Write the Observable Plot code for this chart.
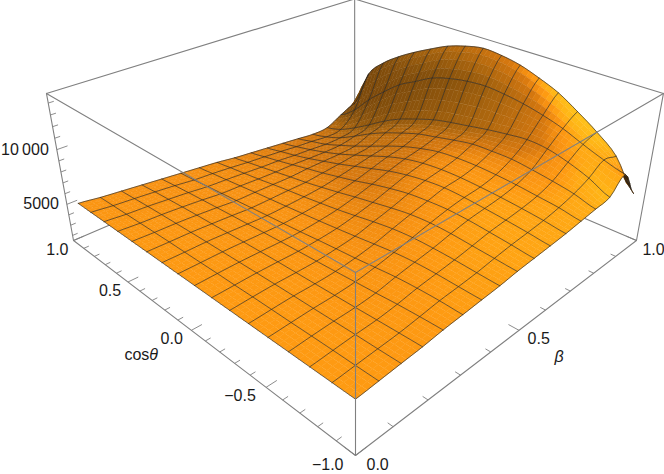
<!DOCTYPE html>
<html><head><meta charset="utf-8">
<style>html,body{margin:0;padding:0;background:#fff}svg{display:block}</style>
<script src="https://cdn.jsdelivr.net/npm/d3@7"></script>
<script src="https://cdn.jsdelivr.net/npm/@observablehq/plot@0.6"></script>
</head><body><div id="chart"></div>
<script>
const betaNodes = [0.02,0.08,0.14,0.20,0.26,0.32,0.38,0.44,0.50,0.56,0.62,0.68,0.74,0.80,0.86,0.92,0.98];
const cosNodes = [-0.96,-0.84,-0.72,-0.60,-0.48,-0.36,-0.24,-0.12,0,0.12,0.24,0.36,0.48,0.60,0.72,0.84,0.96];
// one row per beta node, one column per cos node
const zGrid = [
[5090,5090,5090,5090,5090,5090,5090,5090,5090,5090,5090,5090,5090,5090,5090,5090,5090],
[5220,5210,5210,5200,5180,5170,5160,5130,5120,5090,5060,5040,5000,4960,4920,4880,4830],
[5360,5330,5320,5290,5260,5240,5210,5170,5130,5090,5050,5000,4940,4880,4810,4720,4630],
[5490,5450,5400,5340,5290,5240,5200,5160,5100,5040,4970,4900,4830,4750,4650,4550,4430],
[5690,5660,5600,5490,5400,5300,5220,5140,5060,4980,4880,4790,4690,4590,4480,4360,4230],
[5820,5890,5890,5820,5660,5490,5360,5220,5060,4930,4800,4670,4530,4400,4270,4130,4030],
[5960,6020,6090,6090,5980,5780,5560,5360,5170,5000,4830,4670,4510,4330,4160,4000,3830],
[6090,6180,6290,6350,6350,6220,5960,5650,5360,5120,4890,4690,4470,4230,4030,3830,3630],
[6290,6420,6550,6690,6730,6620,6350,6020,5690,5330,5000,4690,4430,4160,3890,3630,3360],
[6420,6630,6820,6990,7060,6980,6820,6490,6090,5620,5220,4830,4490,4130,3790,3470,3160],
[6550,6780,6980,7150,7290,7350,7220,6950,6550,6020,5490,4960,4490,4030,3630,3300,2960],
[6690,6950,7150,7310,7420,7490,7460,7290,6950,6420,5760,5120,4490,3960,3500,3100,2760],
[6890,7220,7420,7620,7750,7820,7780,7620,7220,6690,6020,5290,4590,3960,3360,2960,2560],
[7090,7620,7950,8220,8420,8420,8350,8020,7620,7220,6620,5960,5160,4230,3360,2760,2360],
[7310,8220,8880,9350,9480,9280,9010,8680,8350,7950,7350,6690,5820,4760,3760,2900,2430],
[8550,9080,9750,10480,11010,11410,11670,11810,11670,11340,10810,9880,8950,7620,6160,4430,3230],
[6020,8680,10150,11340,12410,13140,13740,14070,14200,13870,13340,12540,11670,10680,9480,7750,3890]
];
const betaTicks = [0,0.1,0.2,0.3,0.4,0.5,0.6,0.7,0.8,0.9,1];
const cosTicks = [-1,-0.9,-0.8,-0.7,-0.6,-0.5,-0.4,-0.3,-0.2,-0.1,0,0.1,0.2,0.3,0.4,0.5,0.6,0.7,0.8,0.9,1];
const zTicks = [2000,3000,4000,5000,6000,7000,8000,9000,10000,11000,12000,13000,14000];
const betaLabels = [0,0.5,1];
const cosLabels = [-1,-0.5,0,0.5,1];
const zLabels = [5000,10000];
const zMin = 1500, zMax = 14800;

// perspective view of the box [0,1] x [-1,1] x [zMin,zMax]
const U = b => b, V = c => (c + 1) / 2, W = z => (z - zMin) / (zMax - zMin);
function view(u, v, w) {
  const D = 1 + 0.393 * (u + v) - 0.122 * w;
  return [355 + (391.4 * u - 392.8 * v) / D, 455 - (299.5 * (u + v) + 160.7 * w) / D];
}
const P = (b, c, z) => view(U(b), V(c), W(z));
const pX = d => P(d.b, d.c, d.z)[0], pY = d => P(d.b, d.c, d.z)[1];

// lighting from the surface normal at each node
const norm = ([a, b, c]) => { const l = Math.hypot(a, b, c); return [a / l, b / l, c / l]; };
const dot = (a, b) => a[0] * b[0] + a[1] * b[1] + a[2] * b[2];
const L1 = norm([-0.25, -0.65, 0.7]), L2 = norm([0.45, 0.1, 0.88]), L3 = norm([-0.1, 0.8, 0.6]);
const ramp = d3.scaleLinear()
  .domain([0, 0.5, 0.62, 0.7, 0.8, 0.9, 0.945, 0.965, 0.985, 1.005, 1.025, 1.06, 1.16, 1.3])
  .range(["#2a1604", "#5e3506", "#7a470a", "#85500c", "#a8640e", "#c8720f", "#d8790f", "#ec8810", "#f89212", "#fe9a12", "#ffa814", "#ffb616", "#ffc81c", "#ffdc20"])
  .clamp(true);
const n = 16;
const rawShade = zGrid.map((row, k) => row.map((_, i) => {
  const kp = Math.min(k + 1, n), km = Math.max(k - 1, 0), ip = Math.min(i + 1, n), im = Math.max(i - 1, 0);
  let wu = (W(zGrid[kp][i]) - W(zGrid[km][i])) / ((kp - km) * 0.06);
  const wv = (W(zGrid[k][ip]) - W(zGrid[k][im])) / ((ip - im) * 0.06);
  if (k === n) wu *= 0.35;
  const N = norm([-wu * 0.4, -wv * 0.4, 1]);
  const a = Math.max(0, dot(N, L1));
  return 0.2 + 0.6 * a + 0.28 * Math.max(0, dot(N, L2)) + 0.22 * Math.max(0, dot(N, L3)) + 0.55 * Math.pow(a, 30);
}));
// soften the node lighting across neighbours
function blur(g, passes) {
  let out = g;
  for (let p = 0; p < passes; p++) {
    const src = out;
    out = src.map((row, k) => row.map((_, i) => {
      const c = (a, e) => src[Math.min(n, Math.max(0, a))][Math.min(n, Math.max(0, e))];
      const kw = k < 13 ? 1 : 0.35;
      return (4 * c(k, i) + c(k, i - 1) + c(k, i + 1) + kw * (c(k - 1, i) + c(k + 1, i))) / (6 + 2 * kw);
    }));
  }
  return out;
}
const shade = blur(rawShade, 3);

// smooth drawing of the surface through its nodes
const cr = (p0, p1, p2, p3, t) => 0.5 * (2 * p1 + (p2 - p0) * t + (2 * p0 - 5 * p1 + 4 * p2 - p3) * t * t + (3 * p1 - p0 - 3 * p2 + p3) * t * t * t);
const gridAt = (k, i) => zGrid[Math.min(n, Math.max(0, k))][Math.min(n, Math.max(0, i))];
function surf(k, i, s, t) {
  const col = a => cr(gridAt(k - 1, i + a), gridAt(k, i + a), gridAt(k + 1, i + a), gridAt(k + 2, i + a), s);
  return cr(col(-1), col(0), col(1), col(2), t);
}
const sub = 4, patches = [];
const lerp = (p, q, t) => p + (q - p) * t;
function bil(g, k, i, s, t) {
  return lerp(lerp(g[k][i], g[k + 1][i], s), lerp(g[k][i + 1], g[k + 1][i + 1], s), t);
}
function node(k, i, s, t) {
  return { b: lerp(betaNodes[k], betaNodes[k + 1], s), c: lerp(cosNodes[i], cosNodes[i + 1], t), z: surf(k, i, s, t) };
}
let id = 0;
for (let k = n - 1; k >= 0; k--) for (let i = n - 1; i >= 0; i--) {
  for (let a = sub - 1; a >= 0; a--) for (let e = sub - 1; e >= 0; e--) {
    const s0 = a / sub, s1 = (a + 1) / sub, t0 = e / sub, t1 = (e + 1) / sub;
    const q = [node(k, i, s0, t0), node(k, i, s1, t0), node(k, i, s1, t1), node(k, i, s0, t1)];
    const sc = q.map(p => P(p.b, p.c, p.z));
    let area = 0;
    for (let j = 0; j < 4; j++) { const [x1, y1] = sc[j], [x2, y2] = sc[(j + 1) % 4]; area += x1 * y2 - x2 * y1; }
    const col = area > 0 ? "#3a2206" : ramp(bil(shade, k, i, (s0 + s1) / 2, (t0 + t1) / 2));
    const pid = id++;
    q.forEach(p => patches.push({ ...p, id: pid, col }));
  }
}

// mesh lines through the nodes
const mesh = [];
for (let k = 0; k <= n; k++) for (let i = 0; i < n; i++) for (let e = 0; e <= sub; e++) {
  const kk = Math.min(k, n - 1), s = k === n ? 1 : 0;
  mesh.push({ ...node(kk, i, s, e / sub), id: "b" + k });
}
for (let i = 0; i <= n; i++) for (let k = 0; k < n; k++) for (let e = 0; e <= sub; e++) {
  const ii = Math.min(i, n - 1), t = i === n ? 1 : 0;
  mesh.push({ ...node(k, ii, e / sub, t), id: "c" + i });
}

// box edges
const edge = (id, a, e) => [{ id, b: a[0], c: a[1], z: a[2] }, { id, b: e[0], c: e[1], z: e[2] }];
const backEdges = [
  ...edge(1, [1, 1, zMin], [1, 1, zMax]), ...edge(2, [0, 1, zMin], [1, 1, zMin]), ...edge(3, [1, -1, zMin], [1, 1, zMin]),
  ...edge(4, [0, 1, zMax], [1, 1, zMax]), ...edge(5, [1, -1, zMax], [1, 1, zMax])
];
const frontEdges = [
  ...edge(6, [0, -1, zMin], [0, -1, zMax]), ...edge(7, [0, -1, zMax], [0, 1, zMax]), ...edge(8, [0, -1, zMax], [1, -1, zMax]),
  ...edge(9, [0, -1, zMin], [0, 1, zMin]), ...edge(10, [0, -1, zMin], [1, -1, zMin]),
  ...edge(11, [0, 1, zMin], [0, 1, zMax]), ...edge(12, [1, -1, zMin], [1, -1, zMax])
];

const isMajor = (v, step) => Math.abs(v / step - Math.round(v / step)) < 1e-6;
const bT = betaTicks.map(b => { const a = P(b, -1, zMin), l = isMajor(b, 0.5) ? 0.028 : 0.014, e = view(b, l, 0); return { a, e }; });
const cT = cosTicks.map(c => { const a = P(0, c, zMin), l = isMajor(c, 0.5) ? 0.028 : 0.014, e = view(l, V(c), 0); return { a, e }; });
const zT = zTicks.map(z => { const a = P(0, 1, z), l = z % 5000 === 0 ? 0.028 : 0.014, e = view(l, 1, W(z)); return { a, e }; });
const ticks = [...bT, ...cT, ...zT];

const font = { fontFamily: "Liberation Sans, Arial, sans-serif", fontSize: 16, fill: "#1a1a1a", stroke: "none" };
const fmt = v => (v < 0 ? "\u2212" : "") + Math.abs(v).toFixed(1);
const fz = v => v >= 10000 ? "10\u2009000" : String(v);

const chart = Plot.plot({
  width: 664, height: 474, margin: 0,
  x: { domain: [0, 664], range: [0, 664], axis: null },
  y: { domain: [0, 474], range: [0, 474], axis: null },
  color: { type: "identity" },
  marks: [
    Plot.line(backEdges, { x: pX, y: pY, z: "id", stroke: "#808080", strokeWidth: 1.1 }),
    Plot.line(patches, { x: pX, y: pY, z: "id", fill: "col", stroke: "col", strokeWidth: 0.5 }),
    Plot.line(mesh, { x: pX, y: pY, z: "id", stroke: "#262626", strokeWidth: 0.85, strokeOpacity: 0.78 }),
    Plot.line(frontEdges, { x: pX, y: pY, z: "id", stroke: "#808080", strokeWidth: 1.1 }),
    Plot.link(ticks, { x1: d => d.a[0], y1: d => d.a[1], x2: d => d.e[0], y2: d => d.e[1], stroke: "#808080", strokeWidth: 0.9 }),
    Plot.text(betaLabels, { x: b => P(b, -1, zMin)[0] + 6 + 5 * (1 - b), y: b => P(b, -1, zMin)[1] + 9, text: fmt, textAnchor: "start", ...font }),
    Plot.text(cosLabels, { x: c => P(0, c, zMin)[0] - 5 - 3.5 * (1 - c), y: c => P(0, c, zMin)[1] + 9, text: fmt, textAnchor: "end", ...font }),
    Plot.text(zLabels, { x: z => P(0, 1, z)[0] - 8, y: z => P(0, 1, z)[1], text: fz, textAnchor: "end", ...font }),
    Plot.text(["cos"], { x: () => P(0, 0, zMin)[0] - 42, y: () => P(0, 0, zMin)[1] + 25, text: d => d, textAnchor: "end", ...font }),
    Plot.text(["\u03b8"], { x: () => P(0, 0, zMin)[0] - 42, y: () => P(0, 0, zMin)[1] + 25, text: d => d, textAnchor: "start", fontStyle: "italic", ...font }),
    Plot.text(["\u03b2"], { x: () => P(0.5, -1, zMin)[0] + 40, y: () => P(0.5, -1, zMin)[1] + 27, text: d => d, fontStyle: "italic", ...font })
  ]
});
document.getElementById("chart").appendChild(chart);
</script></body></html>
